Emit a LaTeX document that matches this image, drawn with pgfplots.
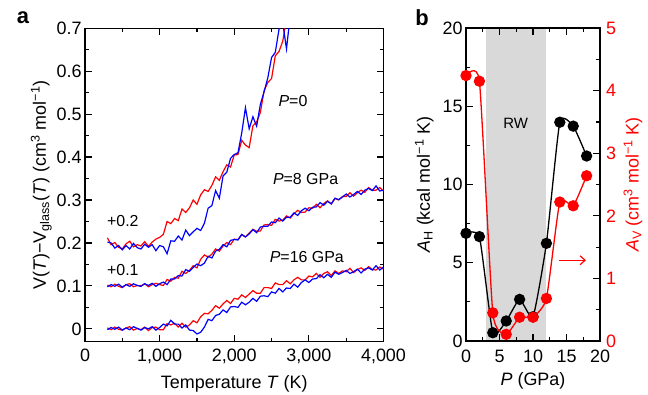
\documentclass[border=0pt]{standalone}
\usepackage{fontspec}
\setmainfont{Liberation Sans}
\usepackage{pgfplots}
\usepackage{pgfplotstable}
\pgfplotsset{compat=1.18}
\usetikzlibrary{arrows.meta}
\pgfplotstableread{
T r0 b0 r8 b8 r16 b16
300 0.212 0.202 0.102 0.098 0.002 -0.002
350 0.196 0.200 0.098 0.103 -0.002 0.003
400 0.201 0.188 0.104 0.099 0.004 -0.001
450 0.190 0.194 0.099 0.104 -0.001 0.004
500 0.186 0.184 0.096 0.097 -0.003 -0.003
550 0.198 0.194 0.103 0.103 0.002 0.002
600 0.204 0.186 0.105 0.099 0.005 -0.002
650 0.191 0.199 0.098 0.105 -0.003 0.005
700 0.196 0.189 0.101 0.101 0.001 0.001
750 0.193 0.186 0.100 0.099 -0.002 -0.003
800 0.203 0.197 0.105 0.105 0.004 0.003
850 0.192 0.190 0.098 0.101 -0.004 0.000
900 0.202 0.196 0.103 0.106 0.003 0.005
950 0.209 0.182 0.106 0.099 0.004 -0.003
1000 0.213 0.194 0.103 0.105 -0.002 0.003
1050 0.220 0.191 0.101 0.109 -0.002 0.011
1100 0.250 0.175 0.115 0.103 0.012 0.007
1150 0.245 0.205 0.111 0.116 0.009 0.020
1200 0.257 0.204 0.120 0.116 0.013 0.011
1250 0.252 0.216 0.118 0.124 0.004 0.011
1300 0.279 0.207 0.134 0.123 0.013 0.002
1350 0.271 0.230 0.129 0.138 0.004 0.009
1400 0.282 0.217 0.136 0.134 0.009 -0.003
1450 0.300 0.226 0.147 0.143 0.019 -0.004
1500 0.290 0.234 0.142 0.151 0.014 -0.012
1550 0.312 0.229 0.162 0.147 0.028 -0.008
1600 0.324 0.246 0.172 0.153 0.036 0.004
1650 0.320 0.281 0.167 0.169 0.035 0.022
1700 0.334 0.287 0.174 0.165 0.043 0.019
1750 0.354 0.322 0.186 0.181 0.054 0.031
1800 0.346 0.304 0.181 0.185 0.048 0.034
1850 0.366 0.356 0.193 0.196 0.058 0.044
1900 0.382 0.365 0.201 0.191 0.066 0.038
1950 0.377 0.397 0.196 0.206 0.059 0.051
2000 0.405 0.406 0.209 0.208 0.071 0.052
2050 0.406 0.410 0.208 0.207 0.069 0.050
2100 0.439 0.456 0.219 0.220 0.079 0.062
2150 0.428 0.515 0.214 0.214 0.073 0.056
2200 0.422 0.466 0.223 0.221 0.081 0.062
2250 0.473 0.494 0.232 0.231 0.089 0.071
2300 0.482 0.472 0.227 0.224 0.083 0.064
2350 0.504 0.523 0.228 0.237 0.083 0.076
2400 0.555 0.552 0.242 0.239 0.096 0.077
2450 0.574 0.585 0.243 0.239 0.096 0.075
2500 0.583 0.632 0.241 0.249 0.094 0.086
2550 0.636 0.644 0.255 0.247 0.107 0.083
2600 0.646 0.698 0.251 0.258 0.103 0.094
2650 0.670 0.712 0.253 0.251 0.103 0.086
2700 0.722 0.652 0.263 0.260 0.112 0.095
2750 0.726 0.730 0.258 0.260 0.105 0.094
2800 nan nan 0.268 0.270 0.114 0.104
2850 nan nan 0.276 0.264 0.120 0.097
2900 nan nan 0.271 0.275 0.114 0.108
2950 nan nan 0.272 0.281 0.114 0.114
3000 nan nan 0.282 0.275 0.123 0.108
3050 nan nan 0.281 0.283 0.121 0.116
3100 nan nan 0.290 0.284 0.129 0.117
3150 nan nan 0.282 0.294 0.120 0.126
3200 nan nan 0.292 0.288 0.129 0.119
3250 nan nan 0.298 0.297 0.133 0.127
3300 nan nan 0.291 0.291 0.124 0.120
3350 nan nan 0.304 0.304 0.135 0.132
3400 nan nan 0.300 0.301 0.129 0.127
3450 nan nan 0.308 0.307 0.135 0.131
3500 nan nan 0.308 0.314 0.133 0.136
3550 nan nan 0.317 0.307 0.141 0.129
3600 nan nan 0.309 0.313 0.131 0.133
3650 nan nan 0.317 0.320 0.138 0.139
3700 nan nan 0.323 0.313 0.142 0.130
3750 nan nan 0.318 0.323 0.136 0.139
3800 nan nan 0.329 0.327 0.145 0.142
3850 nan nan 0.323 0.322 0.138 0.137
3900 nan nan 0.323 0.333 0.137 0.147
3950 nan nan 0.329 0.321 0.144 0.137
4000 nan nan 0.321 0.323 0.139 0.144
}\curves
\pgfplotstableread{
P AH AV
0 6.88 4.24
2 6.67 4.15
4 0.53 0.45
6 1.28 0.107
8 2.66 0.38
10 1.55 0.38
12 6.24 0.68
14 13.98 2.22
16 13.73 2.16
18 11.82 2.64
}\pdata
\pgfplotsset{
  every axis/.append style={
    scale only axis,
    tick align=inside,
    axis line style={line width=1.5bp},
    every tick/.style={line width=1.2bp, black},
    major tick length=7bp,
    minor tick length=4bp,
    tick label style={font=\fontsize{18}{20}\selectfont},
    label style={font=\fontsize{18}{20}\selectfont},
    xticklabel style={inner sep=1bp, yshift=-6bp},
    xlabel style={yshift=-7bp},
    /pgf/number format/assume math mode=true,
    /pgf/number format/1000 sep={,},
    scaled ticks=false,
  }
}
\begin{document}
\begin{tikzpicture}[x=1bp,y=1bp]
\path[use as bounding box] (0,0) rectangle (648,394);
% panel a
\begin{axis}[
  at={(85bp,52.3bp)}, anchor=south west,
  width=298.5bp, height=313.4bp,
  xmin=0, xmax=4000, ymin=-0.03, ymax=0.7,
  xtick={0,1000,2000,3000,4000},
  ytick={0,0.1,0.2,0.3,0.4,0.5,0.6,0.7},
  yticklabels={0,0.1,0.2,0.3,0.4,0.5,0.6,0.7},
  minor x tick num=1, minor y tick num=1,
  xlabel={Temperature \textit{T} (K)},
  ylabel={V(\textit{T})−V\textsubscript{glass}(\textit{T}) (cm\textsuperscript{3} mol\textsuperscript{−1})},
  ylabel style={yshift=-2bp},
  unbounded coords=jump,
]
\addplot[red, line width=1.2bp] table[x=T, y=r16] {\curves};
\addplot[blue, line width=1.2bp] table[x=T, y=b16] {\curves};
\addplot[red, line width=1.2bp] table[x=T, y=r8] {\curves};
\addplot[blue, line width=1.2bp] table[x=T, y=b8] {\curves};
\addplot[red, line width=1.2bp] table[x=T, y=r0] {\curves};
\addplot[blue, line width=1.2bp] table[x=T, y=b0] {\curves};
\node[font=\fontsize{16}{18}\selectfont] at (axis cs:2787,0.53) {\textit{P}=0};
\node[font=\fontsize{16}{18}\selectfont] at (axis cs:2956,0.35) {\textit{P}=8 GPa};
\node[font=\fontsize{16}{18}\selectfont] at (axis cs:2973,0.168) {\textit{P}=16 GPa};
\node[font=\fontsize{16}{18}\selectfont] at (axis cs:507,0.25) {+0.2};
\node[font=\fontsize{16}{18}\selectfont] at (axis cs:507,0.137) {+0.1};
\end{axis}
% panel b, left axis
\begin{axis}[
  at={(466bp,53bp)}, anchor=south west,
  width=134bp, height=313bp,
  xmin=0, xmax=20, ymin=0, ymax=20,
  xtick={0,5,10,15,20}, ytick={0,5,10,15,20},
  minor x tick num=1, minor y tick num=1,
  ytick pos=left,
  axis on top,
  xticklabel style={yshift=-2bp},
  xlabel={\textit{P} (GPa)},
  xlabel style={yshift=2bp},
  ylabel={\textit{A}\textsubscript{H} (kcal mol\textsuperscript{−1} K)},
  ylabel style={yshift=2bp},
]
\addplot[draw=none, fill=black!15] coordinates {(3,20) (12,20)} \closedcycle;
\addplot[black, line width=1.3bp, smooth, tension=0.3, mark=*, mark size=5bp, mark options={fill=black}] table[x=P, y=AH] {\pdata};
\node[font=\fontsize{15}{17}\selectfont] at (axis cs:7.4,13.9) {RW};
\end{axis}
% panel b, right axis
\begin{axis}[
  at={(466bp,53bp)}, anchor=south west,
  width=134bp, height=313bp,
  xmin=0, xmax=20, ymin=0, ymax=5,
  axis x line=none, axis y line*=right,
  ytick={0,1,2,3,4,5}, minor y tick num=1,
  yticklabel style={red, inner sep=1bp, xshift=5bp},
  ylabel style={red, yshift=-3bp},
  ylabel={\textit{A}\textsubscript{V} (cm\textsuperscript{3} mol\textsuperscript{−1} K)},
]
\addplot[red, line width=1.3bp, smooth, tension=0.3, mark=*, mark size=5bp, mark options={fill=red}] table[x=P, y=AV] {\pdata};
\draw[red, line width=1.2bp, -{Straight Barb[length=5bp,width=9bp]}] (axis cs:13.9,1.29) -- (axis cs:17.9,1.29);
\end{axis}
\node[font=\fontsize{22}{24}\selectfont\bfseries] at (23,376) {a};
\node[font=\fontsize{22}{24}\selectfont\bfseries] at (422,376) {b};
\end{tikzpicture}
\end{document}
